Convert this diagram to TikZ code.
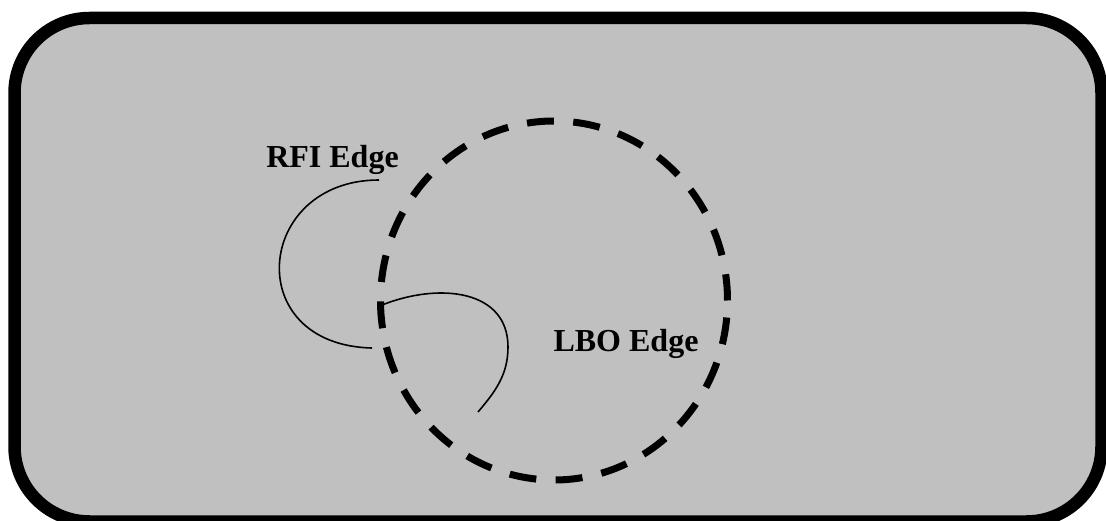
\documentclass[tikz,border=0pt]{standalone}
\usepackage{fontspec}
\setmainfont{Liberation Serif}
\begin{document}
\begin{tikzpicture}[x=1pt,y=-1pt,
  frame/.style={draw=black,line width=12.5pt,fill=panelgray,rounded corners=75pt},
  edgering/.style={draw=black,line width=7pt,dash pattern=on 27pt off 19.34pt,dash phase=29.3pt},
  lbl/.style={inner sep=0pt,anchor=base,font=\fontsize{32}{38}\selectfont\bfseries},
  thin/.style={draw=black,line width=1.6pt}]
\definecolor{panelgray}{RGB}{192,192,192}
\useasboundingbox (0,0) rectangle (1106,521);
\clip (0,0) rectangle (1106,521);
\path[frame] (14.5,18) rectangle (1101.5,521.5);
\path[edgering] (554,300.5) ellipse [x radius=173.5, y radius=179.5];
\node[lbl] (rfi) at (332.5,168) {RFI Edge};
\node[lbl] (lbo) at (626,352) {LBO Edge};
\coordinate (a0) at (379,180);
\coordinate (a1) at (372,348);
\coordinate (b0) at (382,305);
\coordinate (b1) at (508,347);
\coordinate (b2) at (478,412);
\draw[thin] (a0) .. controls (255,180) and (240,345) .. (a1);
\draw[thin] (b0) .. controls (440,282) and (508,290) .. (b1)
  .. controls (508,375) and (495,392) .. (b2);
\end{tikzpicture}
\end{document}
